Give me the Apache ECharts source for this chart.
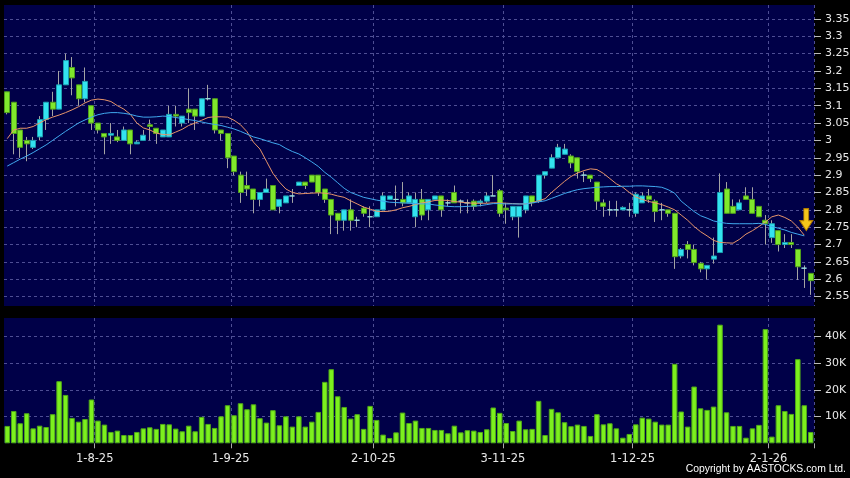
<!DOCTYPE html>
<html><head><meta charset="utf-8">
<script src="https://cdn.jsdelivr.net/npm/echarts@6/dist/echarts.min.js"></script>
<style>html,body{margin:0;padding:0;background:#000;}#c{width:850px;height:478px;}</style>
</head><body><div id="c"></div>
<script>
// ---- data ----
const firstDay = '2025-07-14';
const holidays = ['2025-10-01','2025-10-07','2025-10-29','2025-12-25','2025-12-26','2026-01-01'];
const tickLabels = ['1-8-25','1-9-25','2-10-25','3-11-25','1-12-25','2-1-26'];
const priceTicks = [2.55,2.6,2.65,2.7,2.75,2.8,2.85,2.9,2.95,3,3.05,3.1,3.15,3.2,3.25,3.3,3.35];
const volumeTicks = [10,20,30,40]; // thousands

const opens = [
3.14,3.11,3.03,3.00,2.98,3.01,3.06,3.11,3.09,3.16,
3.21,3.16,3.12,3.10,3.05,3.02,3.015,3.01,3.00,3.03,
2.99,3.00,3.045,3.035,3.01,3.01,3.075,3.05,3.09,3.09,
3.07,3.12,3.12,3.03,3.02,2.955,2.90,2.87,2.86,2.83,
2.85,2.87,2.81,2.82,2.84,2.87,2.88,2.90,2.90,2.86,
2.83,2.79,2.77,2.80,2.77,2.805,2.78,2.78,2.80,2.83,
2.83,2.83,2.82,2.78,2.83,2.80,2.83,2.84,2.82,2.85,
2.825,2.82,2.825,2.82,2.825,2.84,2.855,2.805,2.78,2.78,
2.80,2.84,2.825,2.90,2.92,2.95,2.96,2.955,2.95,2.90,
2.90,2.88,2.82,2.80,2.80,2.80,2.80,2.79,2.82,2.84,
2.825,2.80,2.80,2.79,2.667,2.70,2.686,2.646,2.63,2.658,
2.677,2.86,2.81,2.80,2.84,2.83,2.81,2.77,2.72,2.74,
2.70,2.706,2.686,2.632,2.617];
const closes = [
3.08,3.02,2.98,2.99,3.00,3.06,3.11,3.09,3.16,3.23,
3.18,3.12,3.17,3.05,3.03,3.01,3.02,3.00,3.03,2.99,
2.995,3.015,3.04,3.02,3.03,3.075,3.07,3.07,3.08,3.07,
3.12,3.12,3.03,3.02,2.95,2.91,2.85,2.86,2.83,2.85,
2.86,2.80,2.83,2.84,2.84,2.88,2.87,2.88,2.85,2.83,
2.785,2.77,2.80,2.77,2.77,2.79,2.78,2.80,2.84,2.84,
2.83,2.82,2.84,2.83,2.785,2.83,2.84,2.80,2.82,2.82,
2.825,2.82,2.81,2.825,2.84,2.84,2.79,2.80,2.81,2.81,
2.84,2.82,2.90,2.91,2.95,2.98,2.975,2.935,2.91,2.90,
2.89,2.825,2.81,2.80,2.80,2.807,2.80,2.845,2.84,2.83,
2.795,2.80,2.79,2.665,2.686,2.686,2.648,2.63,2.64,2.667,
2.85,2.79,2.79,2.82,2.83,2.79,2.78,2.76,2.76,2.70,
2.706,2.70,2.636,2.632,2.596];
const lows = [
3.075,2.96,2.95,2.94,2.975,3.00,3.03,3.07,3.09,3.16,
3.13,3.10,3.11,3.03,3.02,2.96,2.99,2.995,3.00,2.96,
2.99,3.00,3.00,2.99,3.01,3.01,3.04,3.04,3.05,3.03,
3.07,3.115,3.02,3.00,2.92,2.90,2.82,2.84,2.79,2.81,
2.85,2.80,2.79,2.82,2.82,2.87,2.86,2.88,2.84,2.82,
2.73,2.73,2.74,2.74,2.75,2.78,2.75,2.78,2.80,2.83,
2.81,2.81,2.82,2.75,2.77,2.77,2.83,2.78,2.81,2.82,
2.79,2.79,2.80,2.81,2.82,2.84,2.78,2.76,2.77,2.72,
2.79,2.81,2.82,2.89,2.92,2.95,2.96,2.92,2.89,2.88,
2.88,2.80,2.78,2.783,2.78,2.80,2.78,2.78,2.82,2.82,
2.765,2.77,2.78,2.63,2.66,2.66,2.64,2.62,2.60,2.645,
2.677,2.79,2.79,2.80,2.83,2.79,2.78,2.70,2.705,2.68,
2.69,2.69,2.598,2.575,2.555];
const highs = [
3.14,3.11,3.03,3.01,3.01,3.07,3.11,3.14,3.20,3.25,
3.24,3.16,3.21,3.10,3.05,3.02,3.05,3.03,3.04,3.03,
3.00,3.03,3.06,3.035,3.03,3.10,3.10,3.07,3.15,3.09,
3.12,3.16,3.12,3.03,3.02,2.955,2.91,2.91,2.86,2.85,
2.89,2.87,2.83,2.84,2.86,2.88,2.88,2.90,2.90,2.86,
2.83,2.79,2.80,2.83,2.78,2.81,2.81,2.80,2.85,2.84,
2.87,2.88,2.85,2.85,2.86,2.83,2.84,2.84,2.83,2.87,
2.83,2.83,2.83,2.83,2.85,2.90,2.86,2.82,2.81,2.81,
2.84,2.84,2.90,2.91,2.96,2.99,2.99,2.96,2.95,2.91,
2.90,2.88,2.83,2.826,2.826,2.81,2.82,2.85,2.85,2.86,
2.83,2.82,2.80,2.79,2.69,2.71,2.70,2.65,2.64,2.72,
2.905,2.88,2.83,2.83,2.865,2.865,2.81,2.785,2.77,2.74,
2.73,2.73,2.686,2.64,2.617];
const volumes = [ // thousands of shares
6.5,12.1,7.5,11.25,5.6,6.6,6.1,10.9,23.25,18.1,
9.5,8.1,9.1,16.4,8.5,7.0,4.25,4.75,3.1,3.1,
4.25,5.6,6.0,5.4,7.25,7.1,5.5,4.5,6.6,4.5,
9.9,7.25,5.75,10.1,14.25,10.5,15.0,12.75,14.6,9.4,
7.75,12.4,6.75,10.1,6.25,10.1,6.25,8.1,11.75,23.0,
27.75,17.6,13.6,9.25,10.9,5.4,14.0,8.75,3.25,2.0,
4.1,11.5,7.6,8.5,5.75,5.75,5.0,5.0,3.75,6.6,
4.1,4.9,4.75,4.25,5.25,13.4,11.4,7.6,4.6,8.5,
5.25,5.4,15.9,3.1,12.9,11.6,7.9,6.4,7.0,6.5,
2.75,10.9,7.1,7.5,5.6,2.1,3.5,7.1,9.6,9.25,
8.1,7.0,7.0,29.75,11.9,6.25,21.25,13.1,12.5,13.75,
44.4,11.6,6.5,6.5,2.1,5.6,6.9,42.75,2.5,14.25,
12.1,11.0,31.5,14.25,4.25];
const ma10 = [
3.005,3.03,3.035,3.035,3.04,3.05,3.06,3.067,3.073,3.08,
3.088,3.097,3.108,3.116,3.119,3.117,3.112,3.1,3.09,3.075,
3.05,3.036,3.03,3.021,3.017,3.016,3.024,3.032,3.043,3.05,
3.058,3.066,3.068,3.068,3.067,3.058,3.045,3.025,2.995,2.975,
2.94,2.905,2.88,2.86,2.85,2.846,2.847,2.848,2.849,2.848,
2.845,2.84,2.836,2.826,2.817,2.808,2.802,2.796,2.795,2.796,
2.8,2.806,2.81,2.815,2.82,2.823,2.827,2.828,2.827,2.824,
2.822,2.82,2.819,2.819,2.819,2.82,2.82,2.819,2.818,2.817,
2.817,2.821,2.826,2.832,2.85,2.866,2.882,2.896,2.906,2.913,
2.918,2.916,2.905,2.89,2.875,2.865,2.85,2.837,2.83,2.824,
2.82,2.815,2.808,2.8,2.785,2.77,2.752,2.737,2.725,2.712,
2.706,2.705,2.704,2.715,2.73,2.74,2.752,2.765,2.78,2.785,
2.778,2.768,2.75,2.727,null];
const ma20 = [
2.926,2.936,2.946,2.955,2.965,2.976,2.987,3.0,3.013,3.026,
3.038,3.05,3.059,3.067,3.074,3.078,3.08,3.08,3.078,3.075,
3.07,3.067,3.067,3.068,3.07,3.069,3.066,3.063,3.06,3.057,
3.053,3.049,3.046,3.043,3.038,3.033,3.026,3.018,3.01,3.005,
2.999,2.993,2.988,2.977,2.968,2.961,2.95,2.938,2.925,2.908,
2.894,2.878,2.862,2.85,2.843,2.836,2.832,2.828,2.825,2.822,
2.821,2.82,2.819,2.818,2.817,2.817,2.814,2.812,2.81,2.809,
2.809,2.81,2.811,2.812,2.815,2.818,2.818,2.817,2.817,2.817,
2.817,2.82,2.823,2.826,2.833,2.84,2.847,2.853,2.858,2.861,
2.863,2.865,2.866,2.867,2.867,2.868,2.868,2.869,2.869,2.868,
2.867,2.865,2.858,2.848,2.825,2.81,2.795,2.783,2.776,2.768,
2.764,2.761,2.76,2.76,2.76,2.76,2.761,2.758,2.752,2.747,
2.742,2.735,2.73,2.725,null];
const arrowIndex = 123;
const arrowPrice = 2.74;

// ---- categories (HK trading days) ----
function tradingDays(n) {
  const out = [];
  let t = Date.parse(firstDay + 'T00:00:00Z');
  while (out.length < n) {
    const d = new Date(t);
    const iso = d.toISOString().slice(0, 10);
    const wd = d.getUTCDay();
    if (wd !== 0 && wd !== 6 && holidays.indexOf(iso) < 0) {
      out.push(d.getUTCDate() + '-' + (d.getUTCMonth() + 1) + '-' + String(d.getUTCFullYear()).slice(2));
    }
    t += 86400000;
  }
  return out;
}
const dates = tradingDays(closes.length);
const isTick = (i, v) => tickLabels.indexOf(v) >= 0;

const wickData = dates.map((d, i) => [opens[i], closes[i], lows[i], highs[i]]);
const bodyData = dates.map((d, i) => [opens[i], closes[i], Math.min(opens[i], closes[i]), Math.max(opens[i], closes[i])]);

const FONT = 'DejaVu Sans';
const gridLine = { color: '#4e4e94', width: 1, type: [3, 3] };

const chart = echarts.init(document.getElementById('c'), null, { renderer: 'canvas' });
chart.setOption({
  animation: false,
  backgroundColor: '#000000',
  grid: [
    { left: 4, right: 36, top: 5, height: 301, show: true, backgroundColor: '#000048', borderWidth: 0,
      outerBoundsMode: 'none', containLabel: false },
    { left: 4, right: 36, top: 318, height: 125.3, show: true, backgroundColor: '#000048', borderWidth: 0,
      outerBoundsMode: 'none', containLabel: false }
  ],
  xAxis: [
    { type: 'category', gridIndex: 0, data: dates, boundaryGap: true,
      axisLine: { show: false }, axisTick: { show: false }, axisLabel: { show: false },
      splitLine: { show: true, interval: isTick, lineStyle: gridLine } },
    { type: 'category', gridIndex: 1, data: dates, boundaryGap: true,
      axisLine: { show: false },
      axisTick: { show: true, interval: isTick, length: 5, lineStyle: { color: '#aaaaaa' } },
      axisLabel: { show: true, interval: isTick, color: '#e8e8e8', fontSize: 11.5, fontFamily: FONT, margin: 10, padding: [0, 6.5, 0, 0] },
      splitLine: { show: true, interval: isTick, lineStyle: gridLine } }
  ],
  yAxis: [
    { type: 'value', gridIndex: 0, position: 'right', min: 2.523, max: 3.39,
      axisLine: { show: false },
      axisTick: { show: true, length: 7, customValues: priceTicks, lineStyle: { color: '#bbbbbb' } },
      axisLabel: { color: '#e8e8e8', fontSize: 11, fontFamily: FONT, margin: 11, customValues: priceTicks },
      splitLine: { show: true, lineStyle: gridLine } },
    { type: 'value', gridIndex: 1, position: 'right', min: 0, max: 46.9,
      axisLine: { show: false },
      axisTick: { show: true, length: 7, customValues: volumeTicks, lineStyle: { color: '#bbbbbb' } },
      axisLabel: { color: '#e8e8e8', fontSize: 11, fontFamily: FONT, margin: 11, customValues: volumeTicks,
        formatter: v => v + 'K' },
      splitLine: { show: true, lineStyle: gridLine } }
  ],
  series: [
    { type: 'candlestick', name: 'wick', xAxisIndex: 0, yAxisIndex: 0, data: wickData, barWidth: 1,
      itemStyle: { color: '#a4a4a4', color0: '#a4a4a4', borderColor: '#a4a4a4', borderColor0: '#a4a4a4', borderWidth: 1 },
      z: 2 },
    { type: 'candlestick', name: 'body', xAxisIndex: 0, yAxisIndex: 0, data: bodyData, barWidth: 5.5,
      itemStyle: { color: '#33e3f0', color0: '#80e82c', borderColor: '#1c9fb0', borderColor0: '#4f9e1c', borderWidth: 1,
        borderColorDoji: '#9adfe0' },
      markPoint: {
        symbol: 'path://M5,0 L11,0 L11,13 L16,13 L8,24 L0,13 L5,13 Z',
        symbolSize: [13, 22], symbolOffset: [2, '-50%'],
        itemStyle: { color: '#f6c61a', borderColor: '#b07a00', borderWidth: 1 },
        label: { show: false },
        data: [{ coord: [arrowIndex, arrowPrice] }]
      },
      z: 3 },
    { type: 'line', name: 'MA10', xAxisIndex: 0, yAxisIndex: 0, data: ma10, symbol: 'none',
      lineStyle: { color: '#e8956a', width: 1 }, z: 4 },
    { type: 'line', name: 'MA20', xAxisIndex: 0, yAxisIndex: 0, data: ma20, symbol: 'none',
      lineStyle: { color: '#40a8ee', width: 1 }, z: 4 },
    { type: 'bar', name: 'Volume', xAxisIndex: 1, yAxisIndex: 1, data: volumes, barWidth: 5.5,
      itemStyle: { color: '#7cf01e', borderColor: '#4fa818', borderWidth: 1 } }
  ],
  graphic: [
    { type: 'text', right: 4, top: 464,
      style: { text: 'Copyright by AASTOCKS.com Ltd.', fill: '#ffffff', font: '10.4px "Liberation Sans"' } }
  ]
});
</script>
</body></html>
